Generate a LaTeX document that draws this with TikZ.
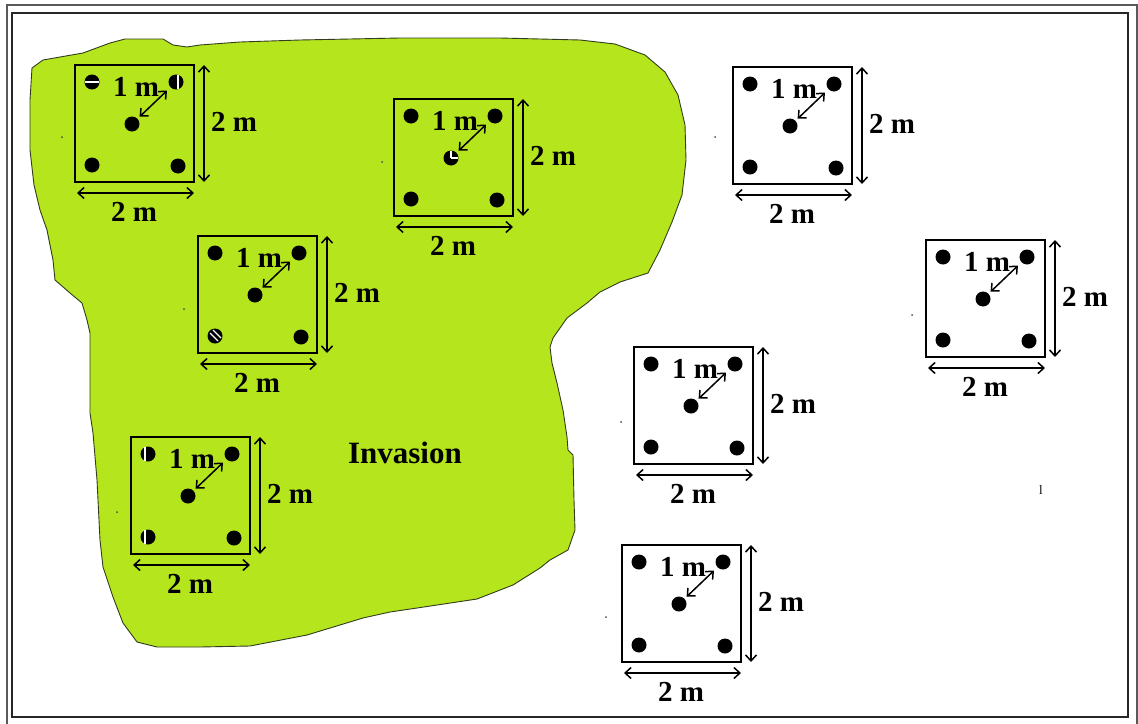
\documentclass[tikz,border=0pt]{standalone}
\usepackage{fontspec}
\setmainfont{Liberation Serif}
\usetikzlibrary{arrows.meta}
\definecolor{lime}{RGB}{181,230,29}
\definecolor{edge}{RGB}{50,60,30}
\tikzset{
  sq/.style={draw, line width=1.7pt, minimum width=119pt, minimum height=117pt,
             inner sep=0pt, outer sep=0pt},
  dot/.style={circle, fill=black, minimum size=15pt, inner sep=0pt, outer sep=0pt},
  dim/.style={line width=1.5pt,
              {Straight Barb[length=6pt,width=11pt]}-{Straight Barb[length=6pt,width=11pt]}},
  lbl/.style={font=\fontsize{29}{31}\selectfont\bfseries, inner sep=0pt},
  speck/.style={circle, fill=black!70, minimum size=2pt, inner sep=0pt},
  nick/.style={white, line width=1.2pt},
}
% one 2 m x 2 m sampling plot; #2,#3 = upper left corner of the square
\newcommand\plotsq[3]{%
  \node[sq]  (#1)   at (#2+59.5,#3+58.5) {};
  \node[dot] (#1tl) at (#2+17,#3+17) {};
  \node[dot] (#1tr) at (#2+101,#3+17) {};
  \node[dot] (#1c)  at (#2+57,#3+59) {};
  \node[dot] (#1bl) at (#2+17,#3+100) {};
  \node[dot] (#1br) at (#2+103,#3+101) {};
  \draw[dim, shorten <=3pt, shorten >=5pt] (#1c) -- (#1tr);
  \coordinate (#1vt) at (#2+129,#3);
  \coordinate (#1vb) at (#2+129,#3+117);
  \draw[dim] (#1vt) -- (#1vb);
  \coordinate (#1hl) at (#2+2,#3+128);
  \coordinate (#1hr) at (#2+119,#3+128);
  \draw[dim] (#1hl) -- (#1hr);
  \node[lbl] (#1one)  at (#2+61,#3+22)  {1 m};
  \node[lbl] (#1vlab) at (#2+159,#3+57) {2 m};
  \node[lbl] (#1hlab) at (#2+59,#3+147) {2 m};
}
\begin{document}
\begin{tikzpicture}[x=1pt,y=-1pt]
  \useasboundingbox (0,0) rectangle (1138,723);
  \fill[white] (0,0) rectangle (1138,723);
  % page frame
  \draw[black!65, line width=1.2pt] (7,5) rectangle (1137,730);
  \draw[black!85, line width=1.8pt] (12,13) rectangle (1128,717);

  % invaded area
  \draw[edge, line width=0.9pt, fill=lime]
    (32,68) -- (43,60) -- (60,57) -- (83,53) -- (110,43) -- (125,39) -- (163,39)
    -- (173,45) -- (187,47) -- (200,45) -- (240,42) -- (300,40) -- (400,38)
    -- (500,38) -- (580,40) -- (615,44) -- (645,55) -- (665,72) -- (678,95)
    -- (685,125) -- (686,160) -- (682,195) -- (672,222) -- (660,250) -- (648,273)
    -- (620,282) -- (600,292) -- (587,303) -- (567,318) -- (553,338) -- (550,347)
    -- (552,363) -- (557,383) -- (563,410) -- (567,437) -- (568,450) -- (573,455)
    -- (574,500) -- (575,530) -- (568,550) -- (550,560) -- (540,568) -- (513,585)
    -- (477,599) -- (417,608) -- (390,612) -- (363,618) -- (307,635) -- (250,646)
    -- (200,647) -- (157,647) -- (137,642) -- (123,623) -- (113,597) -- (103,567)
    -- (100,540) -- (97,480) -- (93,433) -- (90,413) -- (90,333) -- (87,320) -- (82,303)
    -- (70,293) -- (55,280) -- (53,260) -- (47,230) -- (40,210) -- (34,185)
    -- (30,150) -- (30,100) -- cycle;

  \node[lbl, font=\fontsize{31}{33}\selectfont\bfseries] (inv) at (405,453) {Invasion};

  % plots inside the invaded area
  \plotsq{pa}{75}{65}
  \plotsq{pb}{394}{99}
  \plotsq{pc}{198}{236}
  \plotsq{pd}{131}{437}
  % plots outside
  \plotsq{pe}{733}{67}
  \plotsq{pf}{926}{240}
  \plotsq{pg}{634}{347}
  \plotsq{ph}{622}{545}

  % worn marks on some stakes
  \draw[nick] ([xshift=-7pt]patl.center) -- ([xshift=7pt]patl.center);
  \draw[nick] ([xshift=2pt,yshift=-7pt]patr.center) -- ([xshift=2pt,yshift=7pt]patr.center);
  \draw[nick] (pbc.center) -- ([xshift=7pt]pbc.center);
  \draw[nick] (pbc.center) -- ([yshift=7pt]pbc.center);
  \draw[nick] ([xshift=-5pt,yshift=3pt]pcbl.center) -- ([xshift=3pt,yshift=-5pt]pcbl.center);
  \draw[nick] ([xshift=-2pt,yshift=6pt]pcbl.center) -- ([xshift=6pt,yshift=-2pt]pcbl.center);
  \draw[nick] ([xshift=-3pt,yshift=-7pt]pdtl.center) -- ([xshift=-3pt,yshift=7pt]pdtl.center);
  \draw[nick] ([xshift=-3pt,yshift=-7pt]pdbl.center) -- ([xshift=-3pt,yshift=7pt]pdbl.center);

  % stray marks
  \node[speck] (s1) at (62,137) {};
  \node[speck] (s2) at (184,309) {};
  \node[speck] (s3) at (382,162) {};
  \node[speck] (s4) at (117,512) {};
  \node[speck] (s5) at (715,137) {};
  \node[speck] (s6) at (912,315) {};
  \node[speck] (s7) at (621,422) {};
  \node[speck] (s8) at (606,617) {};
  \node[font=\fontsize{13}{14}\selectfont, inner sep=0pt] (ell) at (1041,490) {l};
\end{tikzpicture}
\end{document}
